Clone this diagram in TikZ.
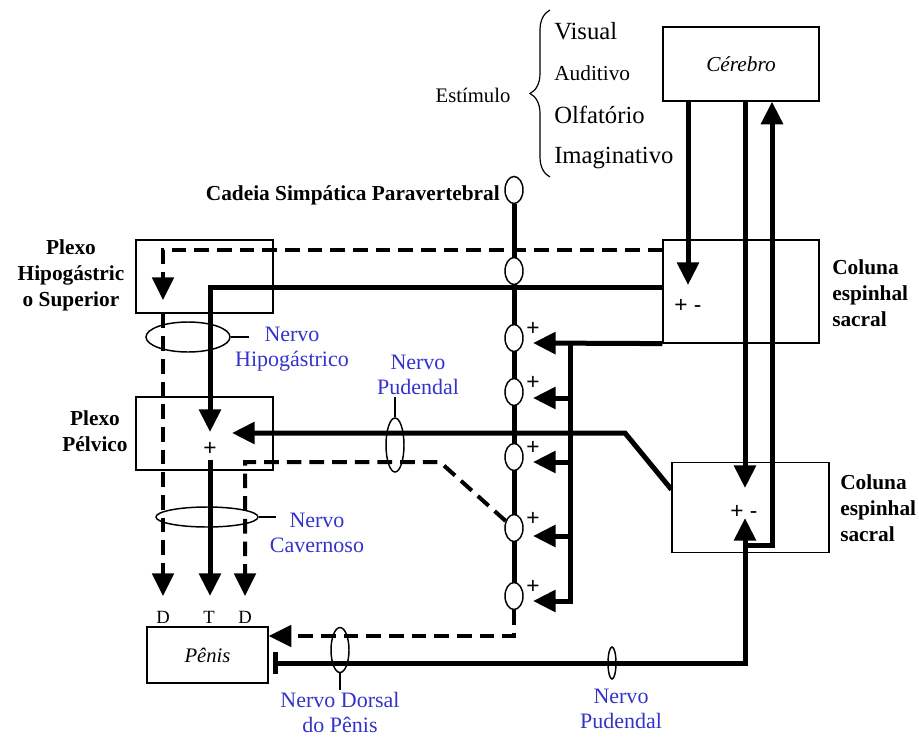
\documentclass[tikz,border=0pt]{standalone}
\usepackage{fontspec}
\setmainfont{Liberation Serif}
\newfontfamily\plusfont{Liberation Sans}
\usetikzlibrary{arrows.meta,shapes.geometric,decorations.pathreplacing,calc}
\pgfdeclarelayer{bg}
\pgfsetlayers{bg,main}
\definecolor{nblue}{RGB}{51,51,204}
\begin{document}
\begin{tikzpicture}[x=0.75pt,y=-0.75pt,
  box/.style={draw,line width=0.9pt,rectangle,inner sep=0pt},
  thk/.style={line width=3.75pt},
  dsh/.style={line width=3pt,dash pattern=on 11pt off 6pt},
  tip/.style={-{Triangle[length=17pt,width=16pt]}},
  gang/.style={ellipse,draw,fill=white,line width=1.1pt,minimum width=13.5pt,minimum height=20.25pt,inner sep=0pt},
  nerve/.style={ellipse,draw,line width=1.1pt,inner sep=0pt},
  leader/.style={line width=0.9pt},
  lbl/.style={font=\fontsize{16}{19.5}\selectfont\bfseries,align=center,inner sep=0pt},
  blab/.style={text=nblue,font=\fontsize{16.5}{18.75}\selectfont,align=center,inner sep=0pt},
  stim/.style={anchor=west,inner sep=0pt},
  pm/.style={font=\plusfont\fontsize{17}{17}\selectfont,inner sep=0pt},
  dt/.style={font=\fontsize{14}{14}\selectfont,inner sep=0pt}]
\useasboundingbox (0,0) rectangle (919,738);

% boxes
\node[box,minimum width=117pt,minimum height=55.5pt] (cer) at (741,64) {\fontsize{16}{19}\selectfont\itshape Cérebro};
\node[box,minimum width=117pt,minimum height=77.25pt] (col1) at (741,291.5) {};
\node[box,minimum width=117.75pt,minimum height=68pt] (col2) at (750.5,507.5) {};
\node[box,minimum width=102.75pt,minimum height=54.75pt] (phs) at (204.5,276.5) {};
\node[box,minimum width=102.75pt,minimum height=54.75pt] (pp) at (204.5,433.5) {};
\node[box,minimum width=90.75pt,minimum height=42pt] (pen) at (207.5,655) {\fontsize{15.5}{18}\selectfont\itshape Pênis};

% signs in boxes
\node[pm] (pm1) at (688,306) {+ -};
\node[pm] (pm2) at (744,512) {+ -};
\node[pm] (pm3) at (210,449) {+};

% chain ganglia
\node[gang] (c0) at (514,190) {};
\node[gang] (c1) at (514,271) {};
\node[gang] (c2) at (514,338) {};
\node[gang] (c3) at (514,392) {};
\node[gang] (c4) at (514,457) {};
\node[gang] (c5) at (514,528) {};
\node[gang] (c6) at (514,596) {};
\foreach \n/\y in {2/329,3/383,4/448,5/519,6/587}
  \node[pm] (plus\n) at (533,\y) {+};

% nerve ellipses
\node[nerve,minimum width=63pt,minimum height=22.5pt] (nh) at (188,337) {};
\node[nerve,minimum width=76.5pt,minimum height=15pt] (nc) at (207,517) {};
\node[nerve,minimum width=13.5pt,minimum height=40.5pt] (np) at (395,445) {};
\node[nerve,minimum width=13.5pt,minimum height=33.75pt] (nd) at (340,650) {};
\node[nerve,minimum width=6pt,minimum height=24pt] (np2) at (612,663) {};

% labels
\node[lbl] (lphs) at (71,275) {Plexo\\Hipogástric\\o Superior};
\node[lbl] (lpp) at (95,431) {Plexo\\Pélvico};
\node[lbl,align=left,anchor=west] (lcol1) at (832,293) {Coluna\\espinhal\\sacral};
\node[lbl,align=left,anchor=west] (lcol2) at (840,508) {Coluna\\espinhal\\sacral};
\node[lbl,anchor=east] (lcad) at (500,195) {Cadeia Simpática Paravertebral};

\node[blab] (lnh) at (292,349.5) {Nervo\\Hipogástrico};
\node[blab] (lnc) at (317,533) {Nervo\\Cavernoso};
\node[blab] (lnp) at (418,375) {Nervo\\Pudendal};
\node[blab] (lnd) at (340,712) {Nervo Dorsal\\do Pênis};
\node[blab] (lnp2) at (621,709) {Nervo\\Pudendal};

\node[dt] (dl) at (163,617) {D};
\node[dt] (tl) at (209,617) {T};
\node[dt] (dr) at (245,617) {D};

% stimulus
\node[inner sep=0pt,font=\fontsize{15.5}{18}\selectfont] (est) at (473,95) {Estímulo};
\node[stim,font=\fontsize{18.5}{20}\selectfont] (vis) at (554,31) {Visual};
\node[stim,font=\fontsize{16}{18}\selectfont] (aud) at (554,73) {Auditivo};
\node[stim,font=\fontsize{18.5}{20}\selectfont] (olf) at (554,115) {Olfatório};
\node[stim,font=\fontsize{18.5}{20}\selectfont] (ima) at (554,158) {Imaginativo};
\draw[line width=0.9pt,decorate,decoration={brace,amplitude=15pt}] (550,177) -- (550,10);

% leaders
\draw[leader] (nh.east) -- ++(18,0);
\draw[leader] (nc.east) -- ++(17,0);
\draw[leader] (np.north) -- ++(0,-20);
\draw[leader] (nd.south) -- ++(0,17);

% coordinates
\coordinate (t1) at (688,285);
\coordinate (t2) at (745,488);
\coordinate (t3) at (745,518);
\coordinate (u1) at (772,545);
\coordinate (bb) at (273,663);
\coordinate (k1) at (625,433);
\coordinate (t4) at (232,433);
\coordinate (h1) at (210,287);
\coordinate (t5) at (210,432);
\coordinate (tT0) at (210,460);
\coordinate (tT) at (210,596);
\coordinate (d1) at (163,250);
\coordinate (t6) at (163,300);
\coordinate (dD) at (163,596);
\coordinate (e1) at (440,462);
\coordinate (e2) at (245,462);
\coordinate (e3) at (245,596);
\coordinate (pd) at (514,636);
\coordinate (f0) at (570,343);
\coordinate (f1) at (570,601);

\begin{pgfonlayer}{bg}
% brain connections
\draw[thk,tip] (cer.south -| t1) -- (t1);
\draw[thk,tip] (cer.south -| t2) -- (t2);
\draw[thk,tip] (t3 |- u1) -- (u1) -- (cer.south -| u1);
% pudendal bottom
\draw[thk,{Bar[width=16pt]}-{Triangle[length=17pt,width=16pt]}] (bb) -- (t3 |- bb) -- (t3);
% pudendal middle
\draw[thk,tip] ($(col2.west)+(0,-18)$) -- (k1) -- (t4);
% hypogastric solid
\draw[thk,tip] (col1.west |- h1) -- (h1) -- (t5);
\draw[thk,tip] (tT0) -- (tT);
% hypogastric dashed
\draw[dsh,tip] (col1.west |- d1) -- (d1) -- (t6);
\draw[dsh,tip] (phs.south -| d1) -- (dD);
% dashed from chain to right D
\draw[dsh,tip] (c5.140) -- (e1) -- (e2) -- (e3);
% chain
\draw[thk] (c0.south) -- (c6.center);
\draw[dsh,tip] (c6.south) -- (pd) -- (pd -| pen.east);
% feeders
\draw[thk,tip] (col1.south west) -- (533,343);
\draw[thk,tip] (f0) -- (f1) -- (533,601);
\foreach \y in {398,462,536}
  \draw[thk,tip] (570,\y) -- (533,\y);
\end{pgfonlayer}
\end{tikzpicture}
\end{document}
